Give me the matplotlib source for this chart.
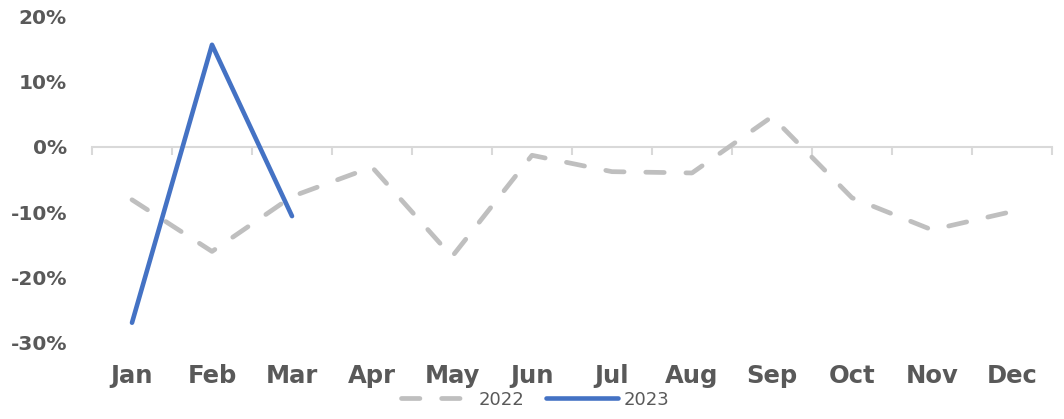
import matplotlib.pyplot as plt
from matplotlib.ticker import PercentFormatter

months = ['Jan', 'Feb', 'Mar', 'Apr', 'May', 'Jun', 'Jul', 'Aug', 'Sep', 'Oct', 'Nov', 'Dec']
y2022 = [-8.1, -16.0, -7.6, -3.1, -16.8, -1.3, -3.8, -4.0, 4.6, -7.8, -12.7, -9.9]
y2023 = [-26.9, 15.6, -10.6]

txt = '#595959'
plt.rcParams['font.family'] = ['DejaVu Sans']
plt.rcParams['axes.unicode_minus'] = False

fig = plt.figure(figsize=(10.64, 4.19), dpi=100)
ax = fig.add_axes([92 / 1064, 1 - 343 / 419, 960 / 1064, 327 / 419])

x = list(range(len(months)))
ax.plot(x, y2022, color='#BFBFBF', lw=3.4, dashes=(3.9, 4.6),
        dash_capstyle='round', solid_capstyle='round', label='2022', zorder=2)
ax.plot(x[:len(y2023)], y2023, color='#4472C4', lw=3.3,
        solid_capstyle='round', label='2023', zorder=3)

ax.set_xlim(-0.5, 11.5)
ax.set_ylim(-30, 20)
ax.set_yticks([-30, -20, -10, 0, 10, 20])
ax.yaxis.set_major_formatter(PercentFormatter(decimals=0))
ax.tick_params(axis='y', length=0, pad=18, labelsize=14.5, labelcolor=txt)
for t in ax.get_yticklabels():
    t.set_fontweight('bold')

# zero line with category boundary ticks
for s in ['top', 'right', 'left']:
    ax.spines[s].set_visible(False)
ax.spines['bottom'].set_position(('data', 0))
ax.spines['bottom'].set_color('#D9D9D9')
ax.spines['bottom'].set_linewidth(1.5)
ax.spines['bottom'].set_zorder(1)
ax.set_xticks([])
ax.set_xticks([i - 0.5 for i in range(len(months) + 1)], minor=True)
ax.tick_params(axis='x', which='minor', length=6, width=1.5, color='#D9D9D9')

# month labels along the bottom edge
sec = ax.secondary_xaxis('bottom')
sec.set_xticks(x, months)
sec.spines['bottom'].set_visible(False)
sec.tick_params(length=0, pad=15, labelsize=17.5, labelcolor=txt)
for t in sec.get_xticklabels():
    t.set_fontweight('bold')

leg = fig.legend(loc='lower center', bbox_to_anchor=(0.503, -0.014), ncol=2, frameon=False,
                 fontsize=13, handlelength=4.0, handletextpad=0.3, columnspacing=1.2)
for t in leg.get_texts():
    t.set_color(txt)

fig.savefig('out.png', dpi=100)
